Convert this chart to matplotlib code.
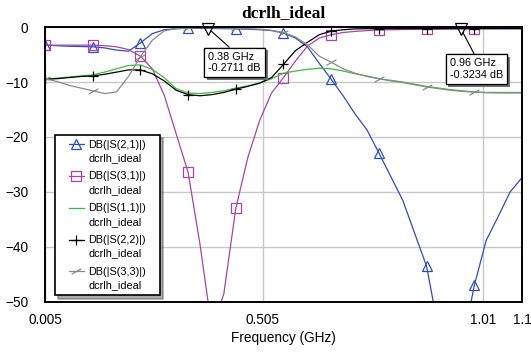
import numpy as np
import matplotlib
matplotlib.use("Agg")
import matplotlib.pyplot as plt
import matplotlib.patheffects as pe
from matplotlib.legend_handler import HandlerLine2D

plt.rcParams['font.family'] = ['Liberation Sans', 'DejaVu Sans']

# sweep points (GHz)
freq = np.linspace(0.005, 1.1, 41)

# dB(|S|) traces of dcrlh_ideal, read at each sweep point
s21 = [-3.3, -3.4, -3.5, -3.55, -3.6, -3.8, -4.2, -4.4, -2.9, -1.2,
       -0.5, -0.3, -0.25, -0.25, -0.27, -0.3, -0.35, -0.4, -0.5, -0.65,
       -1.1, -2.0, -3.6, -6.6, -9.5, -12.5, -15.8, -18.7, -22.9, -27.2,
       -31.5, -37.5, -43.5, -55.0, -66.0, -58.0, -47.0, -38.8, -34.5, -30.0,
       -27.4]
s31 = [-3.3, -3.3, -3.3, -3.3, -3.3, -3.4, -3.6, -4.1, -5.3, -7.6,
       -12.4, -19.4, -26.4, -39.5, -55.0, -48.5, -33.0, -23.8, -17.0, -12.0,
       -9.2, -6.2, -3.5, -2.0, -1.4, -1.0, -0.8, -0.65, -0.55, -0.5,
       -0.45, -0.42, -0.4, -0.38, -0.35, -0.32, -0.31, -0.3, -0.3, -0.29,
       -0.28]
s11 = [-9.5, -9.3, -9.1, -8.9, -8.7, -8.2, -7.6, -7.0, -6.9, -7.7,
       -9.2, -11.2, -12.0, -12.1, -11.9, -11.6, -11.1, -10.7, -10.2, -9.4,
       -8.4, -8.0, -7.7, -7.5, -7.6, -8.0, -8.5, -8.9, -9.4, -9.7,
       -10.0, -10.4, -10.8, -11.1, -11.4, -11.6, -11.8, -11.9, -11.9, -11.9,
       -11.9]
s22 = [-9.5, -9.4, -9.2, -9.0, -8.9, -8.6, -8.2, -7.8, -7.8, -8.5,
       -9.8, -11.5, -12.3, -12.5, -12.3, -11.9, -11.3, -10.8, -10.2, -9.2,
       -6.8, -4.3, -2.8, -1.4, -0.75, -0.5, -0.35, -0.3, -0.3, -0.3,
       -0.3, -0.3, -0.3, -0.3, -0.3, -0.3, -0.3, -0.3, -0.3, -0.3,
       -0.3]
s33 = [-9.4, -9.9, -10.6, -11.1, -11.6, -12.1, -11.8, -9.0, -5.4, -2.4,
       -0.7, -0.3, -0.2, -0.15, -0.15, -0.2, -0.25, -0.3, -0.4, -0.6,
       -1.0, -1.8, -3.2, -5.3, -6.4, -7.6, -8.4, -9.0, -9.4, -9.8,
       -10.1, -10.5, -10.9, -11.2, -11.5, -11.7, -11.85, -11.95, -12.0, -12.0,
       -12.0]

labels = ['DB(|S(2,1)|)', 'DB(|S(3,1)|)', 'DB(|S(1,1)|)', 'DB(|S(2,2)|)', 'DB(|S(3,3)|)']
doc_name = 'dcrlh_ideal'

# marker readouts: (GHz, dB)
readouts = [(0.38, -0.2711), (0.96, -0.3234)]

slash = [(-1.0, -0.55), (1.0, 0.55)]
styles = [
    dict(color='#2f4fb5', marker='^', ms=7),
    dict(color='#a844a8', marker='s', ms=6.5),
    dict(color='#3dbb3d', marker=None),
    dict(color='black', marker='+', ms=7),
    dict(color='#8a8a8a', marker=slash, ms=7),
]
traces = [s21, s31, s11, s22, s33]
marks = list(range(0, 40, 4))


class FirstLineHandler(HandlerLine2D):
    # put the sample line next to the first text line, indented a bit
    def create_artists(self, legend, orig_handle, xdescent, ydescent,
                       width, height, fontsize, trans):
        arts = super().create_artists(legend, orig_handle, xdescent, ydescent,
                                      width, height, fontsize, trans)
        for a in arts:
            xd = np.asarray(a.get_xdata(), float)
            yd = np.asarray(a.get_ydata(), float)
            a.set_xdata(width * 0.34 + xd * 0.57)
            a.set_ydata(yd + 0.68 * fontsize)
        return arts


fig = plt.figure(figsize=(5.31, 3.54), dpi=100)
ax = fig.add_axes([0.0847, 0.147, 0.8983, 0.7767])

handles = []
for vals, st, lab in zip(traces, styles, labels):
    kw = dict(color=st['color'], lw=0.9, label=lab + '\n' + doc_name)
    if st['marker'] is not None:
        kw.update(marker=st['marker'], ms=st['ms'], mfc='none', mec=st['color'],
                  mew=0.9, markevery=marks)
    ln, = ax.plot(freq, vals, **kw)
    handles.append(ln)

# readout markers and their boxes
offsets = [(0, -24.5), (-8, -29)]
for (f, db), off in zip(readouts, offsets):
    ax.plot([f], [db], marker='v', ms=8, mfc='none', mec='black', mew=0.9,
            clip_on=False, zorder=5)
    t = ax.annotate(f'{f:.2f} GHz\n{db:.4f} dB', xy=(f, db), xytext=off,
                    textcoords='offset points', ha='left', va='center',
                    fontsize=7.8, linespacing=1.15, zorder=6,
                    bbox=dict(boxstyle='square,pad=0.4', fc='white', ec='black', lw=0.9),
                    arrowprops=dict(arrowstyle='-', color='black', lw=0.8,
                                    relpos=(0.5, 1.0), shrinkA=0, shrinkB=3))
    t.get_bbox_patch().set_path_effects([
        pe.withSimplePatchShadow(offset=(2, -2), shadow_rgbFace='0.45', alpha=1.0),
        pe.Normal()])

ax.set_xlim(0.005, 1.1)
ax.set_ylim(-50, 0)
ax.set_xticks([0.005, 0.505, 1.01, 1.1])
ax.set_xticklabels(['0.005', '0.505', '1.01', '1.1'])
ax.set_yticks([0, -10, -20, -30, -40, -50])
ax.tick_params(length=0, labelsize=9.8)
ax.tick_params(axis='y', pad=12)
ax.tick_params(axis='x', pad=8)
ax.grid(True, color='#c8c8c8', lw=1)
ax.set_axisbelow(True)
for sp in ax.spines.values():
    sp.set_linewidth(1.4)
    sp.set_color('black')

ax.set_xlabel('Frequency (GHz)', fontsize=9.8, labelpad=3)
ax.set_title('dcrlh_ideal', fontsize=12.5, fontweight='bold',
             family='Liberation Serif', pad=7)

leg = ax.legend(handles=handles, loc='lower left',
                bbox_to_anchor=(0.021, 0.025, 0.22, 0.6), mode='expand',
                borderaxespad=0, fontsize=7.8, numpoints=1, handlelength=2.4,
                handletextpad=0.2, labelspacing=0.75, borderpad=0.45,
                fancybox=False, framealpha=1, edgecolor='black',
                shadow={'ox': 2.5, 'oy': -2.5, 'color': '0.35'},
                handler_map={h: FirstLineHandler() for h in handles})
leg.get_frame().set_linewidth(1.2)
for txt in leg.get_texts():
    txt.set_linespacing(1.45)

fig.savefig('out.png', dpi=100)
